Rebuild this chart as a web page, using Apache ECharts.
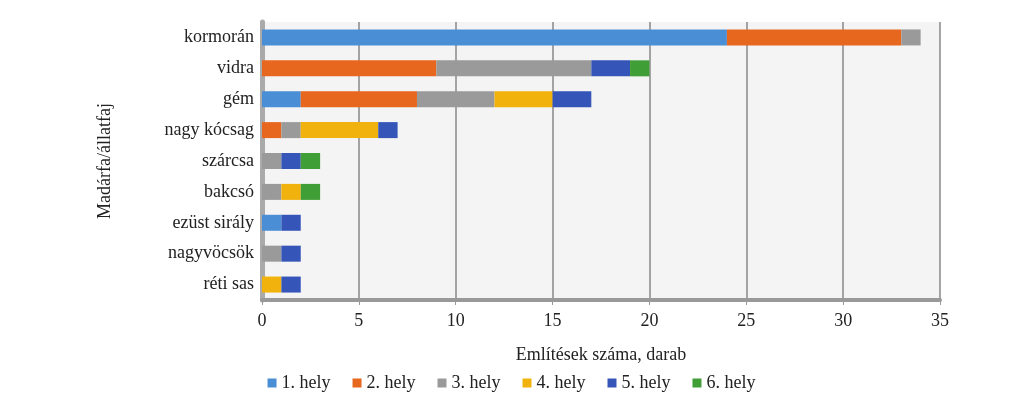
<!DOCTYPE html><html><head><meta charset="utf-8">
<script src="https://cdn.jsdelivr.net/npm/echarts@6/dist/echarts.min.js"></script>
<style>html,body{margin:0;background:#fff}#c{width:1023px;height:401px}</style></head><body><div id="c"></div>
<script>
const categories=['kormorán','vidra','gém','nagy kócsag','szárcsa','bakcsó','ezüst sirály','nagyvöcsök','réti sas'];
const seriesNames=['1. hely','2. hely','3. hely','4. hely','5. hely','6. hely'];
const h1=[24,0,2,0,0,0,1,0,0];
const h2=[9,9,6,1,0,0,0,0,0];
const h3=[1,8,4,1,1,1,0,1,0];
const h4=[0,0,3,4,0,1,0,0,1];
const h5=[0,2,2,1,1,0,1,1,1];
const h6=[0,1,0,0,1,1,0,0,0];
const values=[h1,h2,h3,h4,h5,h6];
const colors=['#4a8fd6','#e8671e','#9a9a9a','#f2b20d','#3556b8','#3f9e35'];
const F='Liberation Serif';
const chart=echarts.init(document.getElementById('c'));
chart.setOption({
 textStyle:{fontFamily:F},
 grid:{left:262,right:83,top:22,bottom:101,show:true,backgroundColor:'#f4f4f4',borderWidth:0},
 xAxis:{type:'value',min:0,max:35,interval:5,
  axisLabel:{fontFamily:F,fontSize:18,color:'#222',margin:12},
  splitLine:{lineStyle:{color:'#888',width:1.5}},
  axisLine:{show:true,lineStyle:{color:'#999',width:4}},axisTick:{show:true,lineStyle:{color:'#999'}},
  name:'Említések száma, darab',nameLocation:'middle',nameGap:46,nameTextStyle:{fontFamily:F,fontSize:18,color:'#222'}},
 yAxis:{type:'category',data:categories,inverse:true,
  axisLabel:{fontFamily:F,fontSize:18,color:'#222',margin:8},
  axisLine:{show:true,lineStyle:{color:'#aaa',width:5}},axisTick:{show:false},
  name:'Madárfa/állatfaj',nameLocation:'middle',nameGap:148,nameRotate:90,nameTextStyle:{fontFamily:F,fontSize:18,color:'#222'}},
 legend:{bottom:4,left:'center',itemWidth:9,itemHeight:9,itemGap:22,icon:'rect',
  textStyle:{fontFamily:F,fontSize:18,color:'#222'},data:seriesNames},
 series:seriesNames.map((n,i)=>({name:n,type:'bar',stack:'s',barWidth:16,
  itemStyle:{color:colors[i]},data:values[i].map(v=>v===0?null:v)}))
});
</script></body></html>
